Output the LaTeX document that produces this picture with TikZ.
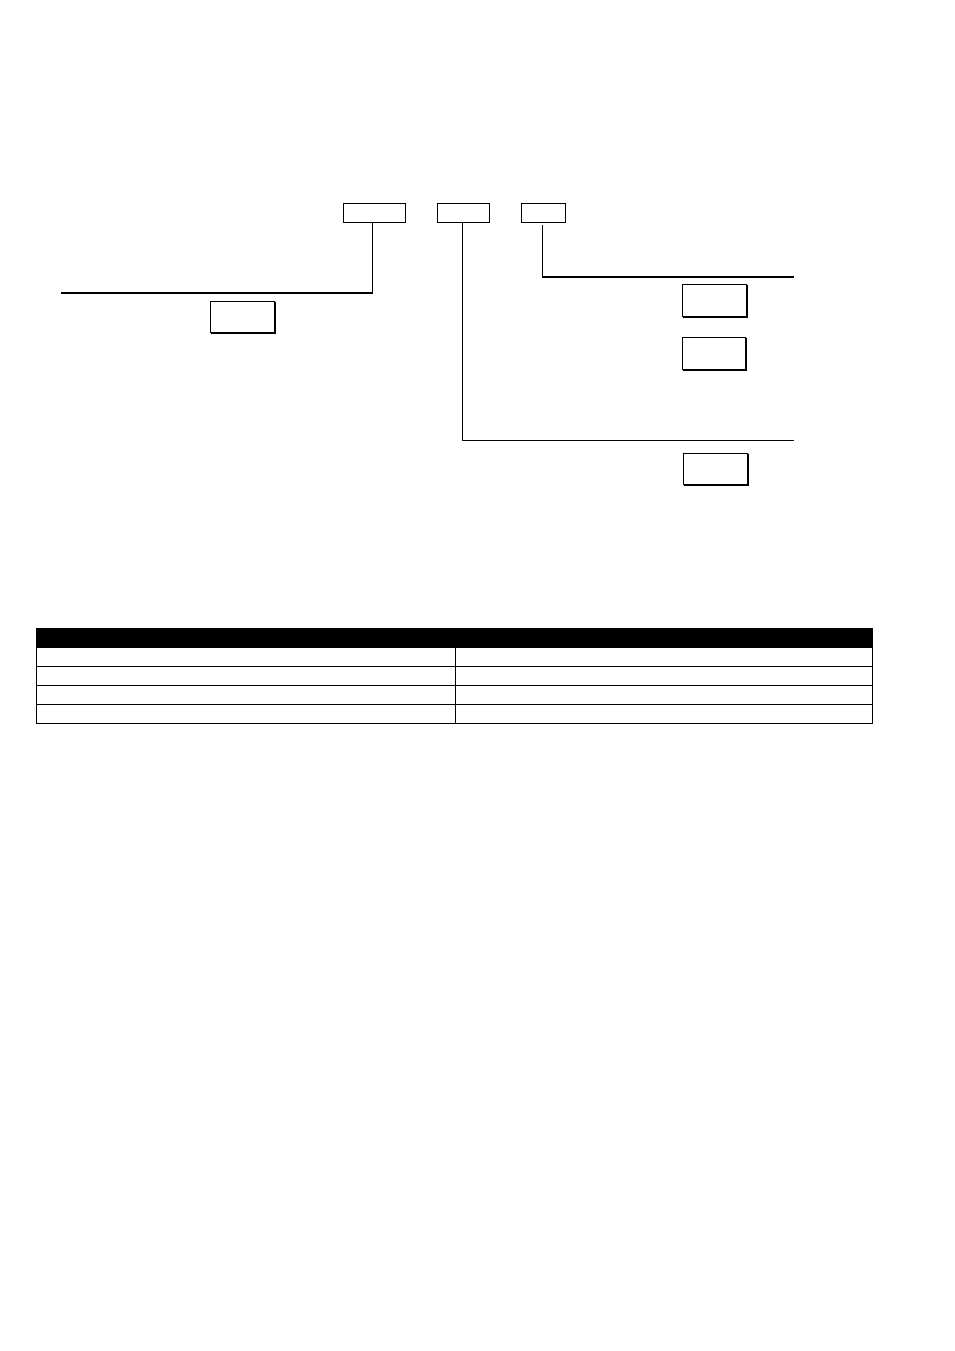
\documentclass[tikz,border=0pt]{standalone}
\begin{document}
\begin{tikzpicture}[x=1pt,y=-1pt,
  tbox/.style={draw,line width=0.9pt,inner sep=0pt},
  sbox/.style={draw,line width=1pt,inner sep=0pt},
  thick line/.style={line width=2pt},
  mid line/.style={line width=1.4pt},
  thin line/.style={line width=1pt}]
\useasboundingbox[fill=white] (0,0) rectangle (954,1351);
% top boxes
\node[tbox,minimum width=62pt,minimum height=19pt] (b1) at (374.3,212.8) {};
\node[tbox,minimum width=52pt,minimum height=19pt] (b2) at (463.2,212.8) {};
\node[tbox,minimum width=44.5pt,minimum height=19pt] (b3) at (543.4,212.8) {};
% line ends
\coordinate (c1) at (372.3,292.7);
\coordinate (e1) at (61,292.7);
\coordinate (c2) at (462.7,440.5);
\coordinate (e2) at (793.5,440.5);
\coordinate (c3) at (542.3,276.5);
\coordinate (e3) at (793.5,276.5);
\draw[mid line] (b1.south -| c1) -- (c1);
\draw[thick line] ([xshift=0.7pt]c1) -- (e1);
\draw[mid line] (b2.south -| c2) -- (c2);
\draw[thin line] (c2) -- (e2);
\draw[mid line] ([yshift=-2pt]b3.south -| c3) -- (c3);
\draw[thick line] ([xshift=-0.7pt]c3) -- (e3);
% shadowed boxes
\foreach \n/\l/\t/\r/\b in {bl/210.7/301.3/274.3/332.3, ra/682.3/285/746.3/316.7, rb/682.3/337.3/745.7/369.3, rc/683.3/453.3/747.3/484.7}{
  \node[inner sep=0pt,minimum width={\r-\l},minimum height={\b-\t}] (\n) at ({(\l+\r)/2},{(\t+\b)/2}) {};
  \draw[line width=1pt] (\n.south west) -- (\n.north west) -- (\n.north east);
  \draw[line width=2pt] ([yshift=-0.5pt]\n.north east) -- ([xshift=0pt]\n.south east) -- ([xshift=0.5pt]\n.south west);
}
% table
\fill (36.5,628) rectangle (872.5,647.7);
\draw[line width=1pt] (36.5,628) rectangle (872.5,723.3);
\foreach \y in {666.3,685.3,704.3}{
  \draw[line width=1pt] (36.5,\y) -- (872.5,\y);
}
\draw[line width=1pt] (455,647.7) -- (455,723.3);
\end{tikzpicture}
\end{document}
